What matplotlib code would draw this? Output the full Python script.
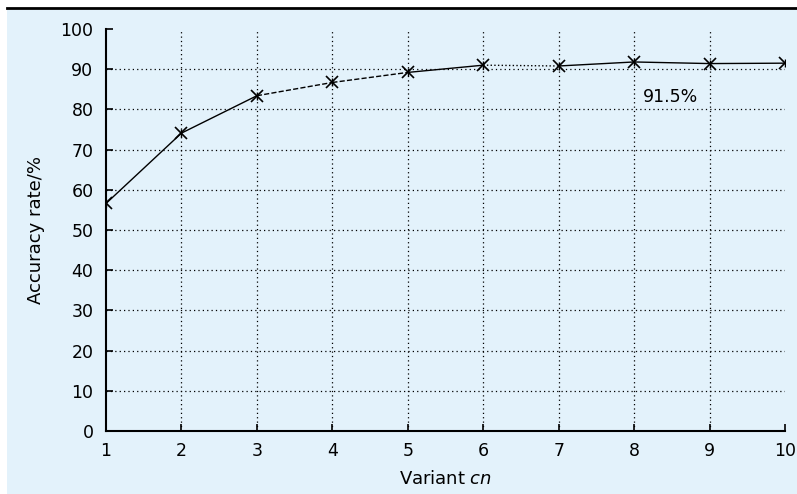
import matplotlib
matplotlib.use("Agg")
import matplotlib.pyplot as plt
from matplotlib.patches import Rectangle

variants = [1, 2, 3, 4, 5, 6, 7, 8, 9, 10]
accuracy = [56.6, 74.1, 83.4, 86.7, 89.2, 91.0, 90.8, 91.8, 91.4, 91.5]
segment_styles = ['-', '-', '--', '--', '-', ':', '-', '-', '-']
y_ticks = [0, 10, 20, 30, 40, 50, 60, 70, 80, 90, 100]
annotation = "91.5%"

plt.rcParams['font.family'] = ['DejaVu Sans']
fig = plt.figure(figsize=(7.97, 4.94), dpi=100)
fig.patch.set_facecolor('white')

bg = fig.add_axes([0, 0, 1, 1], zorder=-10)
bg.set_xlim(0, 797)
bg.set_ylim(494, 0)
bg.axis('off')
bg.add_patch(Rectangle((7, 10), 790, 484, facecolor='#e3f2fb', edgecolor='none'))
bg.plot([7, 797], [8, 8], color='black', lw=2)

ax = fig.add_axes([106/797, 63/494, 679/797, 402/494])
ax.set_facecolor('none')
ax.set_xlim(1, 10)
ax.set_ylim(0, 100)
ax.set_xticks(variants)
ax.set_yticks(y_ticks)
ax.tick_params(direction='in', length=5, width=1.2, labelsize=12.5)
ax.tick_params(axis='y', pad=9)
ax.tick_params(axis='x', pad=8)
for s in ['top', 'right']:
    ax.spines[s].set_visible(False)
for s in ['left', 'bottom']:
    ax.spines[s].set_linewidth(1.5)

for gx in variants[1:-1]:
    ax.axvline(gx, color='black', lw=0.9, ls=(0, (1, 2.5)), zorder=1)
for gy in y_ticks[1:-1]:
    ax.axhline(gy, color='black', lw=0.9, ls=(0, (1, 2.5)), zorder=1)

for i in range(len(variants) - 1):
    ax.plot(variants[i:i+2], accuracy[i:i+2], color='black', lw=1.0,
            ls=segment_styles[i], zorder=3)
ax.plot(variants, accuracy, ls='none', marker='x', ms=9, mew=1.2, color='black', zorder=4)
ax.plot(variants, accuracy, ls='none', marker='|', ms=6, mew=1.0, color='black', zorder=4)

ax.text(8.48, 83.2, annotation, ha='center', va='center', fontsize=12.5)
ax.set_ylabel('Accuracy rate/%', fontsize=13, labelpad=11)
ax.set_xlabel('Variant $\\it{cn}$', fontsize=13, labelpad=7)

fig.savefig('out.png', dpi=100)
